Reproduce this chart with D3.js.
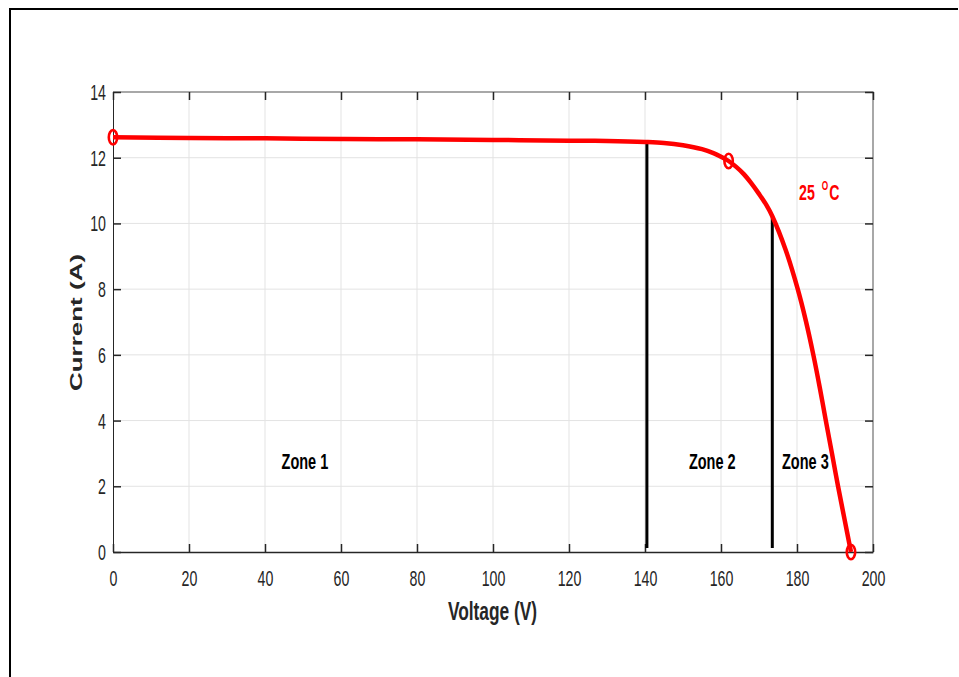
<!DOCTYPE html>
<html>
<head>
<meta charset="utf-8">
<script src="https://cdn.jsdelivr.net/npm/d3@7"></script>
<style>
  body { margin: 0; background: #fff; }
  svg { display: block; }
  .tick text { font-family: "Liberation Sans", Arial, sans-serif; fill: #262626; }
</style>
</head>
<body>
<svg id="chart"></svg>
<script>
// I-V curve
var voltage = [0, 20, 40, 60, 80, 100, 120, 130, 140, 145, 150, 155, 158, 160, 162, 164, 166, 168, 170, 172, 173.5, 177, 180.2, 182.3, 184.3, 186, 187.5, 189.2, 190.8, 192.5, 194.2];
var current = [12.62, 12.60, 12.59, 12.57, 12.56, 12.54, 12.52, 12.51, 12.48, 12.45, 12.38, 12.26, 12.14, 12.03, 11.90, 11.72, 11.50, 11.22, 10.90, 10.55, 10.22, 9.2, 8.0, 7.05, 6.0, 5.0, 4.05, 3.0, 2.0, 1.0, 0];
var markV = [0, 162, 194.2];
var markI = [12.62, 11.9, 0];
var zoneLines = [{v: 140.5, i: 12.47}, {v: 173.5, i: 10.22}];
var zones = [{name: "Zone 1", v: 50.5, i: 2.53}, {name: "Zone 2", v: 157.7, i: 2.53}, {name: "Zone 3", v: 182.2, i: 2.53}];
var xTicks = d3.range(0, 201, 20);
var yTicks = d3.range(0, 15, 2);

var W = 959, H = 677;
var SX = 0.66; // the text in the picture is squeezed sideways
var m = {l: 113, r: 873, t: 92, b: 552};
var svg = d3.select("#chart").attr("width", W).attr("height", H);

// outer frame (only top and left visible)
svg.append("path").attr("d", "M10,677V9H958")
	.attr("fill", "none").attr("stroke", "#000").attr("stroke-width", 2);

var x = d3.scaleLinear().domain([0, 200]).range([m.l, m.r]);
var y = d3.scaleLinear().domain([0, 14]).range([m.b, m.t]);

// grid
var grid = svg.append("g").attr("stroke", "#e3e3e3").attr("stroke-width", 1);
grid.selectAll(".gx").data(xTicks.slice(1, -1)).enter().append("line")
	.attr("x1", function(d){ return x(d); }).attr("x2", function(d){ return x(d); })
	.attr("y1", m.t).attr("y2", m.b);
grid.selectAll(".gy").data(yTicks.slice(1, -1)).enter().append("line")
	.attr("y1", function(d){ return y(d); }).attr("y2", function(d){ return y(d); })
	.attr("x1", m.l).attr("x2", m.r);

// box: top and right in grey
svg.append("path").attr("d", "M" + m.l + "," + m.t + "H" + m.r + "V" + m.b)
	.attr("fill", "none").attr("stroke", "#8c8c8c").attr("stroke-width", 1.5);

function styleAxis(g){
	g.select(".domain").attr("stroke", "#262626").attr("stroke-width", 1.5);
	g.selectAll(".tick line").attr("stroke", "#262626").attr("stroke-width", 1.5);
	g.selectAll(".tick text").attr("font-size", 21.5).attr("transform", "scale(" + SX + ",1)");
}
var xa = svg.append("g").attr("transform", "translate(0," + m.b + ")")
	.call(d3.axisBottom(x).tickValues(xTicks).tickSizeInner(-8).tickSizeOuter(0).tickPadding(17));
styleAxis(xa);
xa.selectAll(".tick text").attr("dy", null).attr("y", 34);
var ya = svg.append("g").attr("transform", "translate(" + m.l + ",0)")
	.call(d3.axisLeft(y).tickValues(yTicks).tickSizeInner(-8).tickSizeOuter(0).tickPadding(7));
styleAxis(ya);
ya.selectAll(".tick text").attr("x", -7 / SX).attr("dy", "0.35em");
ya.select(".domain").attr("stroke-width", 1);
// top & right ticks
svg.append("g").attr("transform", "translate(0," + m.t + ")")
	.call(d3.axisTop(x).tickValues(xTicks).tickSizeInner(-8).tickSizeOuter(0).tickFormat(""))
	.call(function(g){ g.select(".domain").remove(); g.selectAll("line").attr("stroke", "#262626").attr("stroke-width", 1.5); });
svg.append("g").attr("transform", "translate(" + m.r + ",0)")
	.call(d3.axisRight(y).tickValues(yTicks).tickSizeInner(-8).tickSizeOuter(0).tickFormat(""))
	.call(function(g){ g.select(".domain").remove(); g.selectAll("line").attr("stroke", "#262626").attr("stroke-width", 1.5); });

// zone separators
svg.selectAll(".zl").data(zoneLines).enter().append("line")
	.attr("x1", function(d){ return x(d.v); }).attr("x2", function(d){ return x(d.v); })
	.attr("y1", function(d){ return y(d.i); }).attr("y2", m.b - 4)
	.attr("stroke", "#000").attr("stroke-width", 3);

// curve
var pts = voltage.map(function(v, k){ return [v, current[k]]; });
svg.append("path").datum(pts)
	.attr("d", d3.line().x(function(d){ return x(d[0]); }).y(function(d){ return y(d[1]); }).curve(d3.curveCatmullRom.alpha(0.5)))
	.attr("fill", "none").attr("stroke", "#ff0000").attr("stroke-width", 4.5);

svg.selectAll(".mk").data(markV).enter().append("ellipse")
	.attr("cx", function(d){ return x(d); })
	.attr("cy", function(d, k){ return y(markI[k]); })
	.attr("rx", 4.2).attr("ry", 7.2)
	.attr("fill", "none").attr("stroke", "#ff0000").attr("stroke-width", 2.6);

// labels
svg.selectAll(".zn").data(zones).enter().append("text")
	.attr("transform", function(d){ return "translate(" + x(d.v) + "," + y(d.i) + ") scale(" + SX + ",1)"; })
	.attr("text-anchor", "middle")
	.attr("font-family", "'Liberation Sans', Arial, sans-serif")
	.attr("font-weight", "bold").attr("font-size", 22).attr("fill", "#000")
	.text(function(d){ return d.name; });

var t = svg.append("text").attr("transform", "translate(799,200) scale(" + SX + ",1)")
	.attr("font-family", "'Liberation Sans', Arial, sans-serif")
	.attr("font-weight", "bold").attr("font-size", 21.5).attr("fill", "#ff0000");
t.append("tspan").attr("x", 0).text("25");
t.append("tspan").attr("x", 34.4).attr("dy", -10).attr("font-size", 12.5).text("O");
t.append("tspan").attr("x", 45.9).attr("dy", 10).text("C");

svg.append("text").attr("transform", "translate(492.5,620) scale(0.68,1)").attr("text-anchor", "middle")
	.attr("font-family", "'Liberation Sans', Arial, sans-serif")
	.attr("font-weight", "bold").attr("font-size", 25.5).attr("fill", "#262626")
	.text("Voltage (V)");

svg.append("text").attr("transform", "translate(81.5,322.5) scale(" + SX + ",1) rotate(-90)").attr("text-anchor", "middle")
	.attr("font-family", "'Liberation Sans', Arial, sans-serif")
	.attr("font-weight", "bold").attr("font-size", 26).attr("fill", "#262626")
	.text("Current (A)");
</script>
</body>
</html>
